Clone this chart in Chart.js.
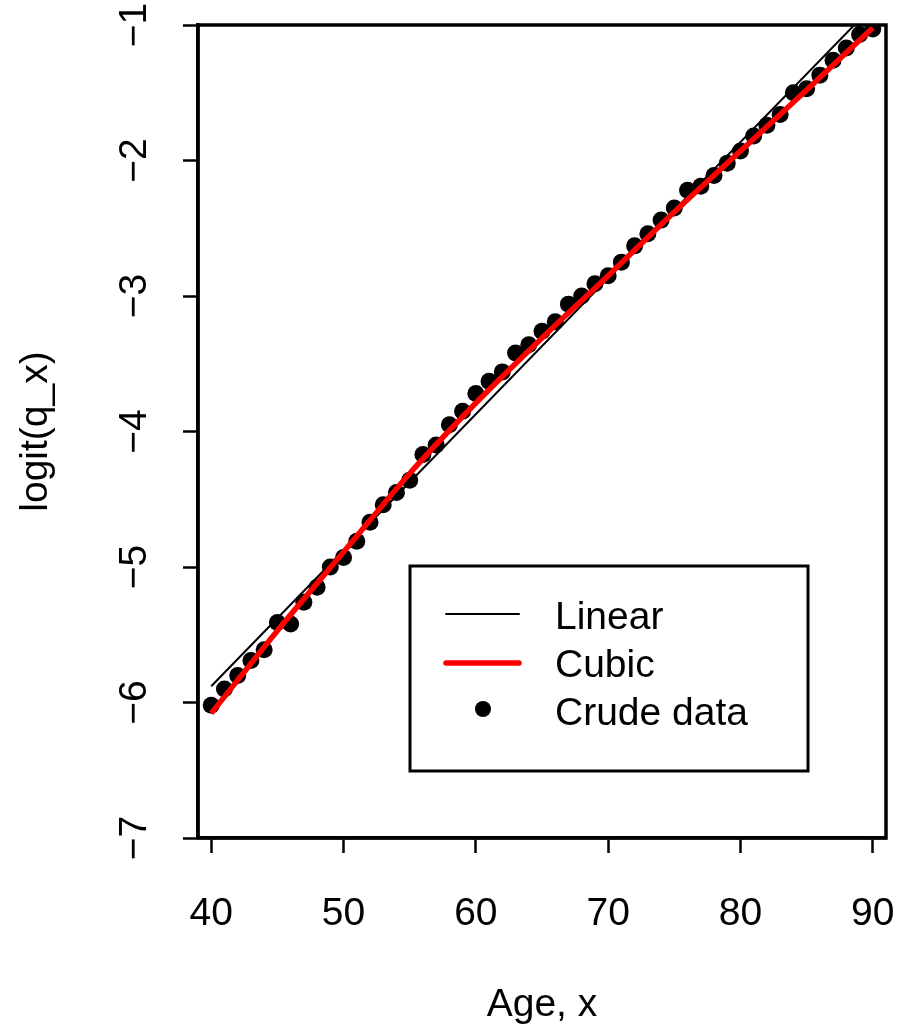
<!DOCTYPE html>
<html lang="en">
<head>
	<meta charset="UTF-8">
	<title>logit(q_x) by age</title>
	<script src="https://cdn.jsdelivr.net/npm/chart.js@4/dist/chart.umd.min.js"></script>
	<style>
		html, body { margin: 0; padding: 0; background: #fff; }
		#wrap { width: 902px; height: 1033px; }
	</style>
</head>
<body>
	<div id="wrap"><canvas id="logitChart"></canvas></div>

	<script>
	// ages and crude logit(q_x) values
	var ages = [40, 41, 42, 43, 44, 45, 46, 47, 48, 49,
		50, 51, 52, 53, 54, 55, 56, 57, 58, 59,
		60, 61, 62, 63, 64, 65, 66, 67, 68, 69,
		70, 71, 72, 73, 74, 75, 76, 77, 78, 79,
		80, 81, 82, 83, 84, 85, 86, 87, 88, 89, 90];
	var crudeLogit = [-6.02, -5.90, -5.80, -5.69, -5.61, -5.41, -5.42, -5.26, -5.15, -5.00,
		-4.93, -4.81, -4.67, -4.54, -4.45, -4.36, -4.17, -4.10, -3.95, -3.85,
		-3.72, -3.63, -3.56, -3.42, -3.36, -3.26, -3.19, -3.06, -3.00, -2.91,
		-2.85, -2.75, -2.63, -2.54, -2.44, -2.35, -2.22, -2.19, -2.11, -2.02,
		-1.93, -1.82, -1.74, -1.66, -1.50, -1.47, -1.37, -1.26, -1.17, -1.07, -1.03];

	// fitted lines
	var linearAges = [40, 90];
	var linearFit = [-5.88, -0.86];
	var cubicAges = [40, 45, 50, 55, 60, 65, 70, 75, 80, 85, 90];
	var cubicFit = [-6.08, -5.47, -4.89, -4.31, -3.79, -3.31, -2.85, -2.38, -1.93, -1.48, -1.02];

	// axis ticks
	var xTicks = [40, 50, 60, 70, 80, 90];
	var yTicks = [-7, -6, -5, -4, -3, -2, -1];
	var legendLabels = ["Linear", "Cubic", "Crude data"];

	var FONT = "'Liberation Sans', Arial, Helvetica, sans-serif";
	var FONT_SIZE = 39;

	function toPoints(xs, ys) {
		var pts = [];
		for (var i = 0; i < xs.length; i++) {
			pts.push({x: xs[i], y: ys[i]});
		}
		return pts;
	}

	function minusSign(v) {
		return String(v).replace("-", "\u2212");
	}

	// box round the plot, rotated y labels and the legend
	var extras = {
		id: "extras",
		afterDraw: function(chart) {
			var ctx = chart.ctx;
			var area = chart.chartArea;
			var yScale = chart.scales.y;

			ctx.save();
			ctx.strokeStyle = "#000";
			ctx.lineWidth = 3.5;
			ctx.strokeRect(area.left, area.top, area.right - area.left, area.bottom - area.top);

			ctx.fillStyle = "#000";
			ctx.font = FONT_SIZE + "px " + FONT;
			ctx.textAlign = "center";
			ctx.textBaseline = "alphabetic";
			for (var i = 0; i < yTicks.length; i++) {
				var py = yScale.getPixelForValue(yTicks[i]);
				ctx.save();
				ctx.translate(area.left - 52, py);
				ctx.rotate(-Math.PI / 2);
				ctx.fillText(minusSign(yTicks[i]), 0, 0);
				ctx.restore();
			}

			// legend
			var lx = area.left + 212, ly = area.top + 541;
			ctx.fillStyle = "#fff";
			ctx.fillRect(lx, ly, 398, 205);
			ctx.lineWidth = 3;
			ctx.strokeRect(lx, ly, 398, 205);

			ctx.lineCap = "round";
			ctx.strokeStyle = "#000";
			ctx.lineWidth = 2;
			ctx.beginPath();
			ctx.moveTo(lx + 36, ly + 48);
			ctx.lineTo(lx + 109, ly + 48);
			ctx.stroke();

			ctx.strokeStyle = "#ff0000";
			ctx.lineWidth = 5.5;
			ctx.beginPath();
			ctx.moveTo(lx + 36, ly + 97);
			ctx.lineTo(lx + 109, ly + 97);
			ctx.stroke();

			ctx.fillStyle = "#000";
			ctx.beginPath();
			ctx.arc(lx + 73, ly + 143, 8, 0, Math.PI * 2);
			ctx.fill();

			ctx.textAlign = "left";
			for (var j = 0; j < legendLabels.length; j++) {
				ctx.fillText(legendLabels[j], lx + 145, ly + 63 + j * 48);
			}
			ctx.restore();
		}
	};

	var ctx = document.getElementById("logitChart").getContext("2d");

	var myChart = new Chart(ctx, {
		type: "scatter",
		data: {
			datasets: [{
				label: "Cubic",
				data: toPoints(cubicAges, cubicFit),
				showLine: true,
				borderColor: "#ff0000",
				borderWidth: 5.5,
				cubicInterpolationMode: "monotone",
				pointRadius: 0,
				order: 1
			},
			{
				label: "Linear",
				data: toPoints(linearAges, linearFit),
				showLine: true,
				borderColor: "#000",
				borderWidth: 2,
				pointRadius: 0,
				order: 2
			},
			{
				label: "Crude data",
				data: toPoints(ages, crudeLogit),
				showLine: false,
				backgroundColor: "#000",
				borderWidth: 0,
				pointRadius: 8.5,
				order: 3
			}]
		},
		options: {
			responsive: true,
			maintainAspectRatio: false,
			animation: false,
			events: [],
			layout: { padding: { top: 25, right: 16, left: 0, bottom: 0 } },
			plugins: {
				legend: { display: false },
				tooltip: { enabled: false }
			},
			scales: {
				x: {
					type: "linear",
					min: 39,
					max: 91,
					afterBuildTicks: function(scale) {
						scale.ticks = xTicks.map(function(v) { return {value: v}; });
					},
					afterFit: function(scale) {
						scale.height = 195;
						scale.paddingLeft = 0;
						scale.paddingRight = 0;
					},
					grid: {
						drawOnChartArea: false,
						drawTicks: true,
						tickLength: 15,
						tickWidth: 2.5,
						tickColor: "#000"
					},
					border: { display: true, color: "#000", width: 3.5 },
					ticks: {
						color: "#000",
						font: { family: FONT, size: FONT_SIZE },
						padding: 38,
						maxRotation: 0
					},
					title: {
						display: true,
						text: "Age, x",
						color: "#000",
						font: { family: FONT, size: FONT_SIZE },
						padding: { top: 0, bottom: 4 }
					}
				},
				y: {
					type: "linear",
					min: -7,
					max: -1,
					afterBuildTicks: function(scale) {
						scale.ticks = yTicks.map(function(v) { return {value: v}; });
					},
					afterFit: function(scale) {
						scale.width = 198;
						scale.paddingTop = 0;
						scale.paddingBottom = 0;
					},
					grid: {
						drawOnChartArea: false,
						drawTicks: true,
						tickLength: 15,
						tickWidth: 2.5,
						tickColor: "#000"
					},
					border: { display: true, color: "#000", width: 3.5 },
					ticks: { display: false },
					title: {
						display: true,
						text: "logit(q_x)",
						color: "#000",
						font: { family: FONT, size: FONT_SIZE },
						padding: { top: 13, bottom: 0 }
					}
				}
			}
		},
		plugins: [extras]
	});
	</script>
</body>
</html>
